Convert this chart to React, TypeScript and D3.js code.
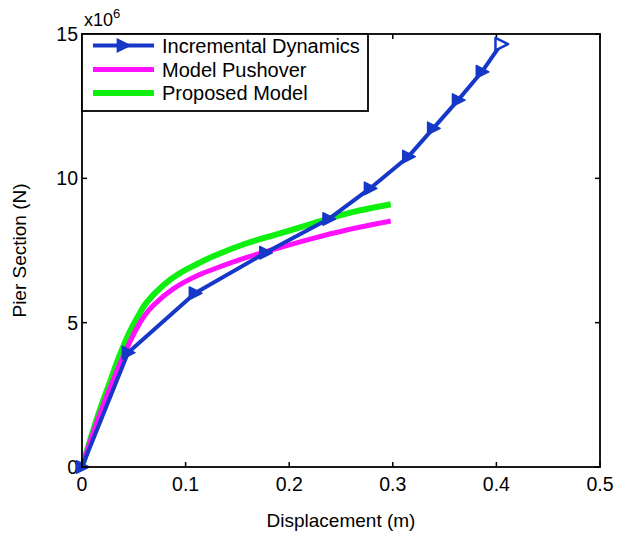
import { useEffect, useRef } from 'react'
import * as d3 from 'd3'

const xTicks = [0, 0.1, 0.2, 0.3, 0.4, 0.5]
const yTicks = [0, 5, 10, 15]

// Incremental dynamics (blue, triangle markers)
const idX = [0, 0.0444, 0.109, 0.177, 0.238, 0.278, 0.315, 0.339, 0.363, 0.386, 0.4045]
const idY = [0, 3.96, 6.02, 7.42, 8.59, 9.65, 10.75, 11.73, 12.71, 13.69, 14.65]

// Model pushover (magenta)
const poX = [0, 0.01, 0.02, 0.03, 0.04, 0.0527, 0.0605, 0.0688, 0.088, 0.1125, 0.1267, 0.159, 0.191, 0.223, 0.2555, 0.298]
const poY = [0, 1.1, 2.1, 3.0, 3.85, 4.8, 5.25, 5.6, 6.17, 6.65, 6.85, 7.26, 7.6, 7.92, 8.21, 8.52]

// Proposed model (green)
const pmX = [0, 0.008, 0.0174, 0.027, 0.0367, 0.0463, 0.0545, 0.0624, 0.0785, 0.0946, 0.112, 0.1267, 0.159, 0.191, 0.223, 0.2555, 0.298]
const pmY = [0, 0.95, 2.0, 2.95, 3.9, 4.7, 5.25, 5.7, 6.3, 6.72, 7.05, 7.3, 7.75, 8.09, 8.44, 8.78, 9.1]

const seriesNames = ['Incremental Dynamics', 'Model Pushover', 'Proposed Model']
const seriesColors = ['#1638c8', '#ff10ff', '#10f010']

export default function App() {
  const ref = useRef<SVGSVGElement>(null)

  useEffect(() => {
    const svg = d3.select(ref.current)
    svg.selectAll('*').remove()
    const width = 629
    const height = 533
    const left = 82, right = 600, top = 34, bottom = 467
    const font = 'Liberation Sans, Arial, sans-serif'

    svg.attr('width', width).attr('height', height)
    svg.append('rect').attr('width', width).attr('height', height).attr('fill', '#fff')

    const x = d3.scaleLinear().domain([0, 0.5]).range([left, right])
    const y = d3.scaleLinear().domain([0, 15]).range([bottom, top])

    // ticks (inward, on all four sides)
    const g = svg.append('g')
    xTicks.forEach((t) => {
      g.append('line').attr('x1', x(t)).attr('x2', x(t)).attr('y1', bottom).attr('y2', bottom - 5).attr('stroke', '#000').attr('stroke-width', 1.5)
      g.append('line').attr('x1', x(t)).attr('x2', x(t)).attr('y1', top).attr('y2', top + 5).attr('stroke', '#000').attr('stroke-width', 1.5)
      g.append('text')
        .attr('x', x(t))
        .attr('y', bottom + 24)
        .attr('text-anchor', 'middle')
        .attr('font-family', font)
        .attr('font-size', 19.5)
        .text(t === 0 ? '0' : d3.format('.1f')(t))
    })
    yTicks.forEach((t) => {
      g.append('line').attr('x1', left).attr('x2', left + 5).attr('y1', y(t)).attr('y2', y(t)).attr('stroke', '#000').attr('stroke-width', 1.5)
      g.append('line').attr('x1', right).attr('x2', right - 5).attr('y1', y(t)).attr('y2', y(t)).attr('stroke', '#000').attr('stroke-width', 1.5)
      g.append('text')
        .attr('x', left - 4)
        .attr('y', y(t) + 7)
        .attr('text-anchor', 'end')
        .attr('font-family', font)
        .attr('font-size', 19.5)
        .text(String(t))
    })

    // exponent
    const ex = g.append('text').attr('x', 84).attr('y', 26).attr('font-family', font).attr('font-size', 18)
    ex.append('tspan').text('x10')
    ex.append('tspan').attr('dy', -8).attr('font-size', 13).text('6')

    // axis labels
    g.append('text')
      .attr('x', (left + right) / 2)
      .attr('y', 527)
      .attr('text-anchor', 'middle')
      .attr('font-family', font)
      .attr('font-size', 19)
      .text('Displacement (m)')
    g.append('text')
      .attr('transform', `translate(26,${(top + bottom) / 2}) rotate(-90)`)
      .attr('text-anchor', 'middle')
      .attr('font-family', font)
      .attr('font-size', 19)
      .text('Pier Section (N)')

    const plot = svg.append('g')
    const line = d3.line<number[]>().x((d) => x(d[0])).y((d) => y(d[1]))
    const lineCurve = d3.line<number[]>().x((d) => x(d[0])).y((d) => y(d[1])).curve(d3.curveCatmullRom.alpha(0.5))

    plot.append('path')
      .attr('d', lineCurve(pmX.map((v, i) => [v, pmY[i]])))
      .attr('fill', 'none').attr('stroke', seriesColors[2]).attr('stroke-width', 6).attr('stroke-linejoin', 'round')
    plot.append('path')
      .attr('d', lineCurve(poX.map((v, i) => [v, poY[i]])))
      .attr('fill', 'none').attr('stroke', seriesColors[1]).attr('stroke-width', 5).attr('stroke-linejoin', 'round')
    plot.append('path')
      .attr('d', line(idX.map((v, i) => [v, idY[i]])))
      .attr('fill', 'none').attr('stroke', seriesColors[0]).attr('stroke-width', 4).attr('stroke-linejoin', 'round')

    const tri = (cx: number, cy: number, s: number) =>
      `M${cx + s},${cy} L${cx - s * 0.8},${cy - s * 0.9} L${cx - s * 0.8},${cy + s * 0.9} Z`

    idX.forEach((v, i) => {
      const last = i === idX.length - 1
      plot.append('path')
        .attr('d', tri(x(v), y(idY[i]), 7))
        .attr('fill', last ? '#fff' : seriesColors[0])
        .attr('stroke', seriesColors[0])
        .attr('stroke-width', last ? 2.5 : 1.5)
        .attr('stroke-linejoin', 'round')
    })

    // frame
    svg.append('rect')
      .attr('x', left).attr('y', top).attr('width', right - left).attr('height', bottom - top)
      .attr('fill', 'none').attr('stroke', '#000').attr('stroke-width', 1.8)

    // legend
    const lg = svg.append('g')
    lg.append('rect').attr('x', 82).attr('y', 34).attr('width', 286).attr('height', 77)
      .attr('fill', '#fff').attr('stroke', '#000').attr('stroke-width', 1.8)
    const rows = [45.5, 69.5, 93]
    const widths = [4, 5, 6]
    seriesNames.forEach((name, i) => {
      lg.append('line').attr('x1', 93).attr('x2', 154).attr('y1', rows[i]).attr('y2', rows[i])
        .attr('stroke', seriesColors[i]).attr('stroke-width', widths[i])
      if (i === 0) {
        lg.append('path').attr('d', tri(123, rows[i], 7)).attr('fill', seriesColors[0]).attr('stroke', seriesColors[0]).attr('stroke-width', 1.5)
      }
      lg.append('text').attr('x', 162).attr('y', rows[i] + 7)
        .attr('font-family', font).attr('font-size', 20).text(name)
    })
  }, [])

  return (
    <div style={{ position: 'absolute', left: 0, top: 0 }}>
      <svg ref={ref} style={{ display: 'block' }} />
    </div>
  )
}
